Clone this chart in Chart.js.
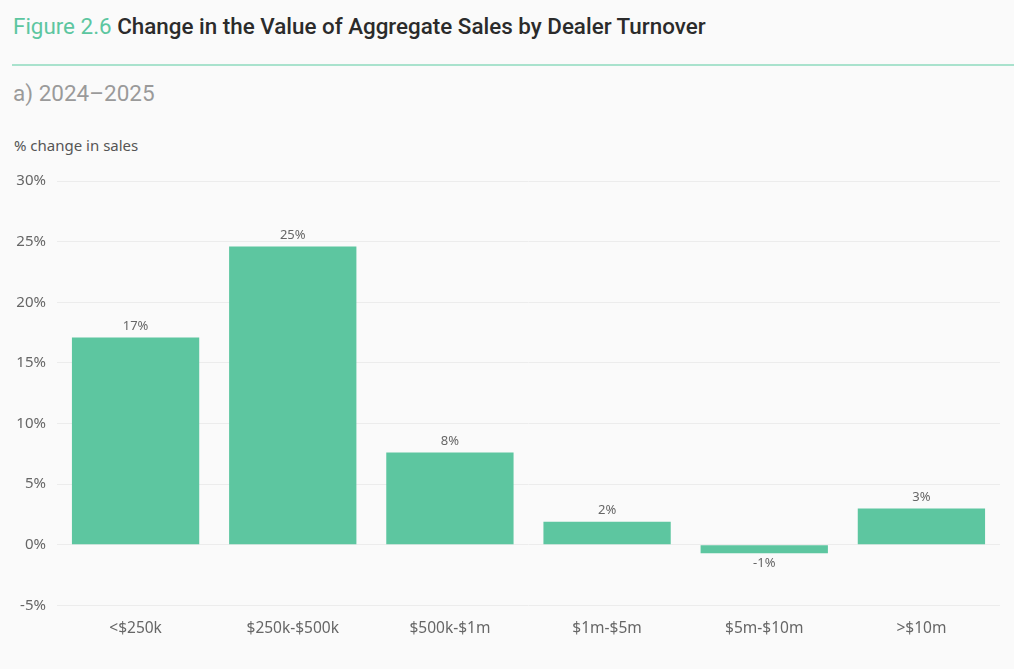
<!DOCTYPE html>
<html><head><meta charset="utf-8">
<script src="https://cdn.jsdelivr.net/npm/chart.js@4"></script>
<style>
html,body{margin:0;padding:0;background:#fafafa;width:1014px;height:669px;overflow:hidden;font-family:Roboto,"Noto Sans",sans-serif;}
#title{position:absolute;left:13px;top:13px;font-size:22.4px;font-weight:500;color:#2b2b2b;white-space:nowrap;}
#title span{color:#5cc6a0;font-weight:400;}
#rule{position:absolute;left:12px;top:64px;width:1002px;height:2px;background:#a9e2cd;}
#sub{position:absolute;left:13px;top:80px;font-size:22.5px;color:#9a9a9a;}
#ylab{position:absolute;left:14px;top:135px;font-size:15px;color:#555;font-family:"Noto Sans",sans-serif;}
#wrap{position:absolute;left:0;top:160px;width:1014px;height:509px;}
</style></head><body>
<div id="title"><span>Figure 2.6</span> Change in the Value of Aggregate Sales by Dealer Turnover</div>
<div id="rule"></div>
<div id="sub">a) 2024–2025</div>
<div id="ylab">% change in sales</div>
<div id="wrap"><canvas id="c" width="1014" height="509"></canvas></div>
<script>
const categories = ["<$250k", "$250k-$500k", "$500k-$1m", "$1m-$5m", "$5m-$10m", ">$10m"];
const values = [17.1, 24.6, 7.6, 1.9, -0.7, 3.0];
const yTicks = [-5, 0, 5, 10, 15, 20, 25, 30];

const labelPlugin = {
  id: 'barLabels',
  afterDatasetsDraw(chart) {
    const ctx = chart.ctx;
    const meta = chart.getDatasetMeta(0);
    ctx.save();
    ctx.font = '13px "Noto Sans", sans-serif';
    ctx.fillStyle = '#666';
    ctx.textAlign = 'center';
    meta.data.forEach((bar, i) => {
      const v = values[i];
      const txt = Math.round(v) + '%';
      if (v >= 0) { ctx.textBaseline = 'bottom'; ctx.fillText(txt, bar.x, bar.y - 5); }
      else { ctx.textBaseline = 'top'; ctx.fillText(txt, bar.x, bar.y + 4); }
    });
    ctx.restore();
  }
};

new Chart(document.getElementById('c'), {
  type: 'bar',
  data: { labels: categories, datasets: [{ data: values, backgroundColor: '#5dc6a0', borderWidth: 0, categoryPercentage: 0.9, barPercentage: 0.9 }] },
  options: {
    responsive: false, animation: false,
    layout: { padding: { top: 21, right: 14, bottom: 17, left: 0 } },
    plugins: { legend: { display: false }, tooltip: { enabled: false } },
    scales: {
      x: {
        grid: { display: false, drawTicks: false },
        border: { display: false },
        ticks: { color: '#666', font: { size: 15.5, family: '"Noto Sans", sans-serif' }, padding: 14 }
      },
      y: {
        min: -5, max: 30,
        afterFit(scale) { scale.width = 57; },
        afterBuildTicks(scale) { scale.ticks = yTicks.map(v => ({ value: v })); },
        grid: { color: '#ececec', drawTicks: false, lineWidth: 1 },
        border: { display: false },
        ticks: { color: '#666', font: { size: 15, family: '"Noto Sans", sans-serif' }, padding: 11, callback: v => v + '%' }
      }
    }
  },
  plugins: [labelPlugin]
});
</script>
</body></html>
